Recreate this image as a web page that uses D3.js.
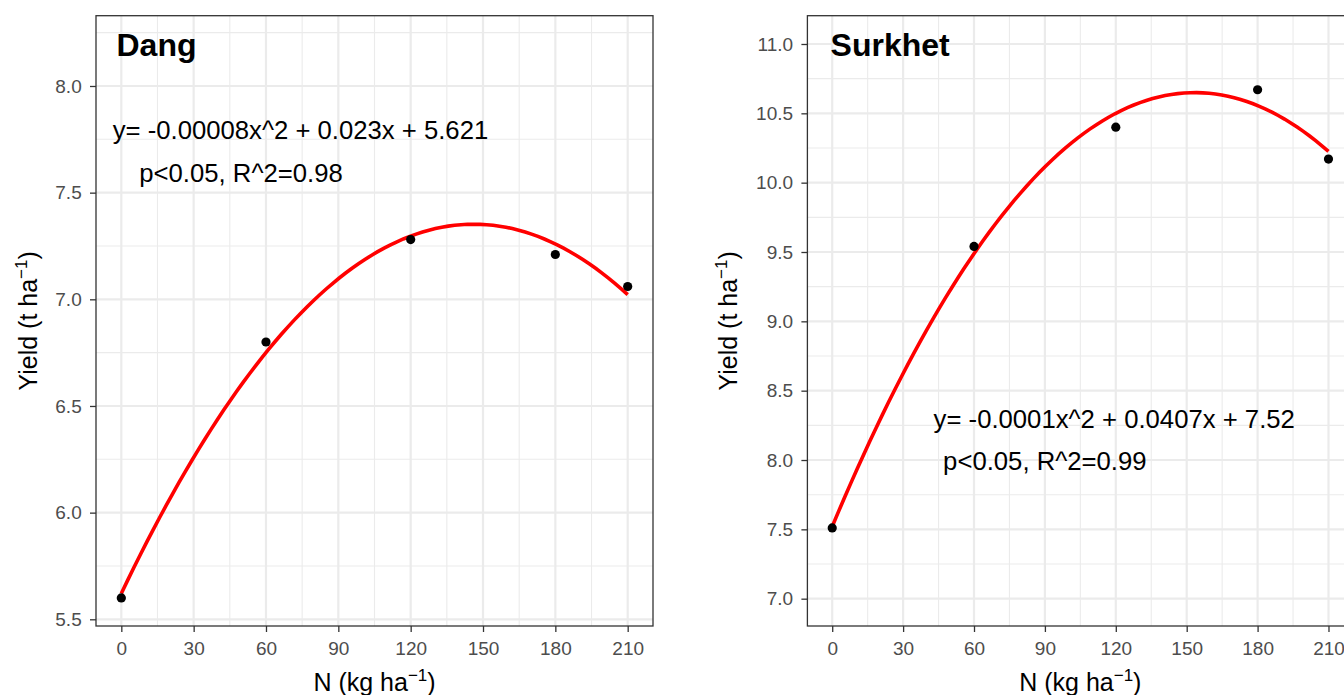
<!DOCTYPE html>
<html><head><meta charset="utf-8">
<script src="https://cdn.jsdelivr.net/npm/d3@7"></script>
<style>html,body{margin:0;padding:0;background:#fff;overflow:hidden}</style>
</head><body><svg id="c" width="1344" height="695" xmlns="http://www.w3.org/2000/svg"></svg>
<script>
// ---- data ----
const nRates = [0, 60, 120, 180, 210];
const dangYield = [5.60, 6.80, 7.28, 7.21, 7.06];
const surkhetYield = [7.51, 9.54, 10.40, 10.67, 10.17];
const xTicks = [0, 30, 60, 90, 120, 150, 180, 210];
const xMinor = [15, 45, 75, 105, 135, 165, 195];
const dangYTicks = [5.5, 6.0, 6.5, 7.0, 7.5, 8.0];
const dangYMinor = [5.75, 6.25, 6.75, 7.25, 7.75, 8.25];
const surkhetYTicks = [7.0, 7.5, 8.0, 8.5, 9.0, 9.5, 10.0, 10.5, 11.0];
const surkhetYMinor = [7.25, 7.75, 8.25, 8.75, 9.25, 9.75, 10.25, 10.75];
const dangEq = ["y= -0.00008x^2 + 0.023x + 5.621", "p<0.05, R^2=0.98"];
const surkhetEq = ["y= -0.0001x^2 + 0.0407x + 7.52", "p<0.05, R^2=0.99"];

const FONT = "'Liberation Sans', Arial, Helvetica, sans-serif";
const svg = d3.select("#c");

// least-squares quadratic fit (as geom_smooth y ~ poly(x,2))
function quadFit(xs, ys) {
  let S = Array(5).fill(0), T = Array(3).fill(0);
  xs.forEach((x, i) => {
    for (let k = 0; k < 5; k++) S[k] += Math.pow(x, k);
    for (let k = 0; k < 3; k++) T[k] += Math.pow(x, k) * ys[i];
  });
  const A = [[S[0], S[1], S[2], T[0]], [S[1], S[2], S[3], T[1]], [S[2], S[3], S[4], T[2]]];
  for (let i = 0; i < 3; i++) {
    for (let j = i + 1; j < 3; j++) {
      const f = A[j][i] / A[i][i];
      for (let k = i; k < 4; k++) A[j][k] -= f * A[i][k];
    }
  }
  const c = [0, 0, 0];
  for (let i = 2; i >= 0; i--) {
    let s = A[i][3];
    for (let k = i + 1; k < 3; k++) s -= A[i][k] * c[k];
    c[i] = s / A[i][i];
  }
  return x => c[0] + c[1] * x + c[2] * x * x;
}

const panels = [
  {id: "dang", title: "Dang", ys: dangYield, yTicks: dangYTicks, yMinor: dangYMinor,
   x0: 96, x1: 653, y0: 15.7, y1: 626, ydom: [5.4686, 8.3295],
   eq: dangEq, eqPos: [[112.7, 139], [139.3, 182.3]], titlePos: [116.5, 55.7],
   yLabX: 36.7},
  {id: "surk", title: "Surkhet", ys: surkhetYield, yTicks: surkhetYTicks, yMinor: surkhetYMinor,
   x0: 807.4, x1: 1353.3, y0: 15.7, y1: 626, ydom: [6.803, 11.204],
   eq: surkhetEq, eqPos: [[933.6, 428.3], [943.1, 470]], titlePos: [830.6, 56],
   yLabX: 737.3}
];

panels.forEach(p => {
  const x = d3.scaleLinear().domain([-10.5, 220.5]).range([p.x0, p.x1]);
  const y = d3.scaleLinear().domain(p.ydom).range([p.y1, p.y0]);
  const g = svg.append("g");

  g.append("clipPath").attr("id", "clip-" + p.id)
    .append("rect").attr("x", p.x0).attr("y", p.y0)
    .attr("width", p.x1 - p.x0).attr("height", p.y1 - p.y0);

  const grid = g.append("g").attr("clip-path", `url(#clip-${p.id})`);
  // minor grid
  grid.selectAll(".mx").data(xMinor).join("line")
    .attr("x1", d => x(d)).attr("x2", d => x(d)).attr("y1", p.y0).attr("y2", p.y1)
    .attr("stroke", "#EBEBEB").attr("stroke-width", 1.1);
  grid.selectAll(".my").data(p.yMinor).join("line")
    .attr("y1", d => y(d)).attr("y2", d => y(d)).attr("x1", p.x0).attr("x2", p.x1)
    .attr("stroke", "#EBEBEB").attr("stroke-width", 1.1);
  // major grid
  grid.selectAll(".Mx").data(xTicks).join("line")
    .attr("x1", d => x(d)).attr("x2", d => x(d)).attr("y1", p.y0).attr("y2", p.y1)
    .attr("stroke", "#EBEBEB").attr("stroke-width", 2.2);
  grid.selectAll(".My").data(p.yTicks).join("line")
    .attr("y1", d => y(d)).attr("y2", d => y(d)).attr("x1", p.x0).attr("x2", p.x1)
    .attr("stroke", "#EBEBEB").attr("stroke-width", 2.2);

  // fitted curve
  const f = quadFit(nRates, p.ys);
  const xs = d3.range(0, 80).map(i => 210 * i / 79);
  grid.append("path").datum(xs)
    .attr("d", d3.line().x(d => x(d)).y(d => y(f(d))))
    .attr("fill", "none").attr("stroke", "#FF0000").attr("stroke-width", 3.6);

  // points
  grid.selectAll(".pt").data(nRates.map((n, i) => [n, p.ys[i]])).join("circle")
    .attr("cx", d => x(d[0])).attr("cy", d => y(d[1])).attr("r", 4.6).attr("fill", "#000");

  // title
  g.append("text").attr("x", p.titlePos[0]).attr("y", p.titlePos[1])
    .attr("font-family", FONT).attr("font-weight", "bold").attr("font-size", 32)
    .attr("fill", "#000").text(p.title);

  // equation text
  p.eq.forEach((t, i) => {
    g.append("text").attr("x", p.eqPos[i][0]).attr("y", p.eqPos[i][1])
      .attr("font-family", FONT).attr("font-size", 25.7).attr("fill", "#000").text(t);
  });

  // border
  g.append("rect").attr("x", p.x0).attr("y", p.y0)
    .attr("width", p.x1 - p.x0).attr("height", p.y1 - p.y0)
    .attr("fill", "none").attr("stroke", "#333333").attr("stroke-width", 1.3);

  // axes
  const ax = g.append("g").attr("transform", `translate(0,${p.y1})`)
    .call(d3.axisBottom(x).tickValues(xTicks).tickFormat(d3.format("d")).tickSize(6).tickPadding(9.5));
  const ay = g.append("g").attr("transform", `translate(${p.x0},0)`)
    .call(d3.axisLeft(y).tickValues(p.yTicks).tickFormat(d3.format(".1f")).tickSize(6).tickPadding(8.3));
  [ax, ay].forEach(a => {
    a.select(".domain").remove();
    a.selectAll("line").attr("stroke", "#333333").attr("stroke-width", 1.3);
    a.selectAll("text").attr("font-family", FONT).attr("font-size", 19).attr("fill", "#4D4D4D");
  });

  // x title
  const xt = g.append("text").attr("x", (p.x0 + p.x1) / 2).attr("y", 691)
    .attr("text-anchor", "middle").attr("font-family", FONT).attr("font-size", 25).attr("fill", "#000");
  xt.append("tspan").text("N (kg ha");
  xt.append("tspan").attr("font-size", 17).attr("dy", -10).text("\u22121");
  xt.append("tspan").attr("dy", 10).text(")");

  // y title
  const yt = g.append("text")
    .attr("transform", `translate(${p.yLabX},${(p.y0 + p.y1) / 2}) rotate(-90)`)
    .attr("text-anchor", "middle").attr("font-family", FONT).attr("font-size", 25).attr("fill", "#000");
  yt.append("tspan").text("Yield (t ha");
  yt.append("tspan").attr("font-size", 17).attr("dy", -10).text("\u22121");
  yt.append("tspan").attr("dy", 10).text(")");
});
</script>
</body></html>
